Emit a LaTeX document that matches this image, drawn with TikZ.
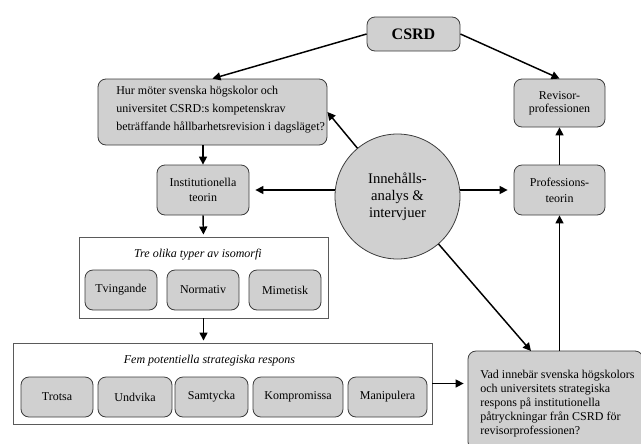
\documentclass[tikz,border=0pt]{standalone}
\usepackage{fontspec}
\setmainfont{Liberation Serif}
\usetikzlibrary{arrows.meta,calc}
\newcommand{\pxu}{0.75pt}
\definecolor{boxgray}{RGB}{208,208,208}
\definecolor{edgegray}{RGB}{60,60,60}
\definecolor{framegray}{RGB}{90,90,90}
\begin{document}
\begin{tikzpicture}[x=0.75pt,y=-0.75pt,
  box/.style={draw=edgegray, fill=boxgray, rounded corners=6pt, line width=0.6pt,
    font=\fontsize{9}{11}\selectfont, align=center, inner sep=0pt},
  frame/.style={draw=framegray, fill=white, line width=0.7pt, inner sep=0pt},
  plaintext/.style={inner sep=0pt, font=\fontsize{9}{11}\selectfont},
  arr/.style={-{Triangle[length=6pt,width=6pt]}, line width=1.1pt, black},
]
\useasboundingbox (0,0) rectangle (641,443);
\clip (0,0) rectangle (641,443);

% top
\node[box, minimum width=93*\pxu, minimum height=34*\pxu,
  font=\bfseries\fontsize{12}{14}\selectfont] (csrd) at (413.5,34) {CSRD};
\node[box, minimum width=229*\pxu, minimum height=66*\pxu] (q1) at (212.5,112) {};
\node[plaintext, anchor=west, align=left, font=\fontsize{9}{13.5}\selectfont] (q1t) at (116,110)
  {Hur möter svenska högskolor och\\universitet CSRD:s kompetenskrav\\beträffande hållbarhetsrevision i dagsläget?};
\node[box, minimum width=91*\pxu, minimum height=48*\pxu, font=\fontsize{9}{9.5}\selectfont] (rev) at (559.5,103) {Revisor-\\professionen};

% middle
\node[box, minimum width=92*\pxu, minimum height=50*\pxu, font=\fontsize{9}{11.25}\selectfont] (inst) at (203,190) {Institutionella\\teorin};
\node[draw=edgegray, fill=boxgray, circle, line width=0.6pt, minimum size=125*\pxu, inner sep=0pt,
  align=center, font=\fontsize{11}{12.75}\selectfont] (circ) at (397.5,196.5) {Innehålls-\\analys \&\\intervjuer};
\node[box, minimum width=91*\pxu, minimum height=50*\pxu, font=\fontsize{9}{12}\selectfont] (prof) at (559.5,190) {Professions-\\teorin};

% isomorfi
\node[frame, minimum width=249*\pxu, minimum height=81*\pxu] (iso) at (203.5,277.5) {};
\node[plaintext, font=\itshape\fontsize{9}{11}\selectfont] (isot) at (198,255) {Tre olika typer av isomorfi};
\node[box, minimum width=72*\pxu, minimum height=40*\pxu] (tving) at (121,290) {Tvingande};
\node[box, minimum width=72*\pxu, minimum height=40*\pxu] (norm) at (203,290) {Normativ};
\node[box, minimum width=72*\pxu, minimum height=40*\pxu] (mim) at (285,290) {Mimetisk};

% strategiska respons
\node[frame, minimum width=419*\pxu, minimum height=81*\pxu] (fem) at (222.5,383.5) {};
\node[plaintext, font=\itshape\fontsize{9}{11}\selectfont] (femt) at (209.5,361) {Fem potentiella strategiska respons};
\node[box, minimum width=72*\pxu, minimum height=40*\pxu] (trotsa) at (57,397) {Trotsa};
\node[box, minimum width=74*\pxu, minimum height=40*\pxu] (undvika) at (135,397) {Undvika};
\node[box, minimum width=73*\pxu, minimum height=40*\pxu] (samtycka) at (211.5,397) {Samtycka};
\node[box, minimum width=90*\pxu, minimum height=40*\pxu] (kompr) at (298,397) {Kompromissa};
\node[box, minimum width=79*\pxu, minimum height=40*\pxu] (manip) at (387.5,397) {Manipulera};

% bottom right question
\node[box, minimum width=175*\pxu, minimum height=99*\pxu] (vad) at (555.5,400.5) {};
\node[plaintext, anchor=west, align=left, font=\fontsize{9}{10.5}\selectfont] (vadt) at (480,404)
  {Vad innebär svenska högskolors\\och universitets strategiska\\respons på institutionella\\påtryckningar från CSRD för\\revisorprofessionen?};

% connectors
\coordinate (vadin) at (531,351);
\draw[arr] (csrd.west) -- (q1.north);
\draw[arr] (csrd.east) -- (rev.north);
\draw[arr] (circ) -- (q1.east);
\draw[arr] (q1.south -| inst.north) -- (inst.north);
\draw[arr, shorten >=4.5pt] (inst.east -| circ.west) -- (inst.east);
\draw[arr, shorten >=4.5pt] (prof.west -| circ.east) -- (prof.west);
\draw[arr, shorten >=1.5pt] (inst.south) -- (iso.north);
\draw[arr, shorten >=1.5pt] (iso.south) -- (iso.south |- fem.north);
\draw[arr, shorten >=3pt] (fem.east) -- (fem.east -| vad.west);
\draw[arr] (circ) -- (vadin);
\draw[arr] (vad.north -| prof.south) -- (prof.south);
\draw[arr] (prof.north) -- (rev.south);
\end{tikzpicture}
\end{document}
